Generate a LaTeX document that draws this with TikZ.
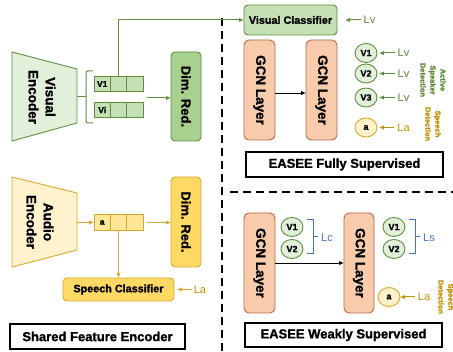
\documentclass[tikz,border=0pt]{standalone}
\usepackage{fontspec}
\setmainfont{Liberation Sans}[BoldFeatures={FakeBold=1.3}]
\usetikzlibrary{shapes.geometric,arrows.meta}
\definecolor{gdark}{HTML}{5E8E3E}
\definecolor{gfill}{HTML}{E2EFDA}
\definecolor{gmid}{HTML}{C5E0B4}
\definecolor{gdeep}{HTML}{A9D18E}
\definecolor{gtext}{HTML}{5A8A32}
\definecolor{ydark}{HTML}{D6A92A}
\definecolor{yfill}{HTML}{FFF2CC}
\definecolor{ymid}{HTML}{FFE699}
\definecolor{ydeep}{HTML}{FFD966}
\definecolor{ytext}{HTML}{BF9000}
\definecolor{ofill}{HTML}{F8CBAD}
\definecolor{odark}{HTML}{B8683F}
\definecolor{bblue}{HTML}{4472C4}
\begin{document}
\begin{tikzpicture}[x=1pt,y=-1pt,
  every node/.style={inner sep=0pt, outer sep=0pt},
  tip/.style={-{Latex[length=5pt,width=4.5pt]}},
  gbox/.style={draw=gdark, line width=0.9pt, rounded corners=4pt},
  ybox/.style={draw=ydark, line width=0.9pt, rounded corners=4pt},
  obox/.style={draw=odark, fill=ofill, line width=0.9pt, rounded corners=5pt, minimum width=31, minimum height=100},
  gcell/.style={draw=gdark, fill=gmid, line width=0.9pt, minimum width=16.3, minimum height=15.5, font=\bfseries\fontsize{8.5}{10}\selectfont},
  ycell/.style={draw=ydark, fill=ymid, line width=0.9pt, minimum width=16.3, minimum height=16.5, font=\bfseries\fontsize{8.5}{10}\selectfont},
  gcirc/.style={ellipse, draw=gdark, fill=gfill, line width=0.9pt, minimum width=22, minimum height=19, font=\bfseries\fontsize{9}{10}\selectfont},
  ycirc/.style={ellipse, draw=ydark, fill=yfill, line width=0.9pt, minimum width=22, minimum height=19, font=\bfseries\fontsize{9}{10}\selectfont},
  rottext/.style={rotate=-90, align=center, font=\bfseries\fontsize{13.5}{17}\selectfont},
  gcntext/.style={rotate=-90, font=\bfseries\fontsize{13.5}{16}\selectfont},
  titlebox/.style={draw=black, line width=1.1pt, fill=white, font=\bfseries\fontsize{13}{15}\selectfont},
  lbl/.style={font=\fontsize{11}{12}\selectfont},
  side/.style={rotate=-90, align=center, font=\bfseries\fontsize{7.5}{10}\selectfont},
  sep/.style={line width=1.8pt, dash pattern=on 8pt off 5pt}
]
\useasboundingbox (0,0) rectangle (453,352);
\clip (0,0) rectangle (453,352);

% separators
\draw[sep] (222,18) -- (222,352);
\draw[sep] (230,192) -- (453,192);

% ---------------- visual branch
\draw[draw=gdark, fill=gfill, line width=0.9pt] (12,52) -- (77,69) -- (77,123) -- (12,141) -- cycle;
\node[rottext] (venct) at (42,97) {Visual\\Encoder};
\coordinate (vencR) at (77,97);
\draw[gdark, line width=1pt] (vencR) -- (86,97);
\draw[gdark, line width=1pt, rounded corners=2pt] (93,71) -- (86,71) -- (86,123) -- (93,123);

\node[gcell] (v1a) at (102.2,84) {V1};
\node[gcell] (v1b) at (118.5,84) {};
\node[gcell] (v1c) at (134.8,84) {};
\node[gcell] (via) at (102.2,110) {Vi};
\node[gcell] (vib) at (118.5,110) {};
\node[gcell] (vic) at (134.8,110) {};

\node[gbox, fill=gdeep, minimum width=30, minimum height=89] (vdim) at (186,96.5) {};
\node[rottext, font=\bfseries\fontsize{13}{15}\selectfont] (vdimt) at (vdim) {Dim. Red.};
\coordinate (vout) at (147,98);
\draw[gdark, line width=1pt, tip] (vout) -- (vdim.west |- vout);

\node[gbox, fill=gmid, minimum width=93, minimum height=30, font=\bfseries\fontsize{10.8}{12}\selectfont] (vcls) at (290.5,20) {Visual Classifier};
\draw[gdark, line width=1pt, tip] (v1b.north) |- (vcls.west);
\node[lbl, text=gtext] (lvc) at (369.5,20) {Lv};
\draw[gdark, line width=1pt, tip, shorten >=8pt] (lvc.west) ++(-3,0) -- (vcls.east);

% ---------------- fully supervised
\node[obox] (f1) at (259.5,90) {};
\node[gcntext] (f1t) at (f1) {GCN Layer};
\node[obox] (f2) at (321.5,90) {};
\node[gcntext] (f2t) at (f2) {GCN Layer};
\draw[black, line width=0.9pt, tip] ([yshift=-3pt]f1.east) -- ([yshift=-3pt]f2.west);

\node[gcirc] (c1) at (366,53) {V1};
\node[gcirc] (c2) at (366,73.5) {V2};
\node[gcirc] (c3) at (366,97.5) {V3};
\node[ycirc] (ca) at (366,127.5) {a};
\node[lbl, text=gtext] (l1) at (403.5,53) {Lv};
\node[lbl, text=gtext] (l2) at (403.5,73.5) {Lv};
\node[lbl, text=gtext] (l3) at (403.5,97.5) {Lv};
\node[lbl, text=ytext] (l4) at (403.5,127.5) {La};
\draw[gdark, line width=1pt, tip, shorten <=3pt, shorten >=2pt] (l1.west) -- (c1.east);
\draw[gdark, line width=1pt, tip, shorten <=3pt, shorten >=2pt] (l2.west) -- (c2.east);
\draw[gdark, line width=1pt, tip, shorten <=3pt, shorten >=2pt] (l3.west) -- (c3.east);
\draw[ytext, line width=1pt, tip, shorten <=3pt, shorten >=2pt] (l4.west) -- (ca.east);
\node[side, text=gtext] (asd) at (433,80) {Active\\Speaker\\Detection};
\node[side, text=ytext] (sd1) at (433,124) {Speech\\Detection};

\node[titlebox, minimum width=197, minimum height=25] (fs) at (344.5,164.5) {EASEE Fully Supervised};

% ---------------- audio branch
\draw[draw=ydark, fill=yfill, line width=0.9pt] (12,177) -- (77,193) -- (77,250) -- (12,267) -- cycle;
\node[rottext] (aenct) at (40,222) {Audio\\Encoder};
\coordinate (aencR) at (77,222.5);

\node[ycell] (aa) at (102.2,222.5) {a};
\node[ycell] (ab) at (118.5,222.5) {};
\node[ycell] (ac) at (134.8,222.5) {};
\draw[ydark, line width=1pt, tip] (aencR) -- (aa.west);

\node[ybox, fill=ydeep, minimum width=30, minimum height=90] (adim) at (186,222) {};
\node[rottext, font=\bfseries\fontsize{13}{15}\selectfont] (adimt) at (adim) {Dim. Red.};
\draw[ydark, line width=1pt, tip, shorten <=4pt] (ac.east) -- (adim.west |- ac.east);

\node[ybox, fill=ydeep, minimum width=111, minimum height=23, font=\bfseries\fontsize{10.8}{12}\selectfont] (scls) at (118.5,289.5) {Speech Classifier};
\draw[ydark, line width=1pt, tip] (ab.south) -- (ab.south |- scls.north);
\node[lbl, text=ytext] (lsc) at (200,289.5) {La};
\draw[ydark, line width=1pt, tip, shorten <=2pt, shorten >=3pt] (lsc.west) -- (scls.east);

\node[titlebox, minimum width=175, minimum height=25] (sfe) at (97.5,336.5) {Shared Feature Encoder};

% ---------------- weakly supervised
\node[obox] (w1) at (259.5,263) {};
\node[gcntext] (w1t) at (w1) {GCN Layer};
\node[obox, minimum width=30] (w2) at (359,263) {};
\node[gcntext] (w2t) at (w2) {GCN Layer};
\draw[black, line width=0.9pt, tip] (w1.east) -- (w2.west);

\node[gcirc] (wc1) at (292,227) {V1};
\node[gcirc] (wc2) at (292,249) {V2};
\node[gcirc] (wd1) at (394,227) {V1};
\node[gcirc] (wd2) at (394,249) {V2};
\draw[bblue, line width=1pt] (307,220) -- (313,220) -- (313,254) -- (307,254);
\coordinate (bt1) at (313,237);
\node[lbl, text=bblue] (lc) at (327,238) {Lc};
\draw[bblue, line width=1pt] (bt1) -- (318,237);
\draw[bblue, line width=1pt] (409,220) -- (415,220) -- (415,254) -- (409,254);
\coordinate (bt2) at (415,237);
\node[lbl, text=bblue] (ls) at (429,238) {Ls};
\draw[bblue, line width=1pt] (bt2) -- (420,237);

\node[ycirc] (wa) at (389,297) {a};
\node[lbl, text=ytext] (lwa) at (424,297) {La};
\draw[ytext, line width=1pt, tip, shorten <=3pt, shorten >=0pt] (lwa.west) -- (wa.east);
\node[side, text=ytext] (sd2) at (446,297) {Speech\\Detection};

\node[titlebox, minimum width=197, minimum height=24] (ws) at (343.5,335) {EASEE Weakly Supervised};
\end{tikzpicture}
\end{document}
